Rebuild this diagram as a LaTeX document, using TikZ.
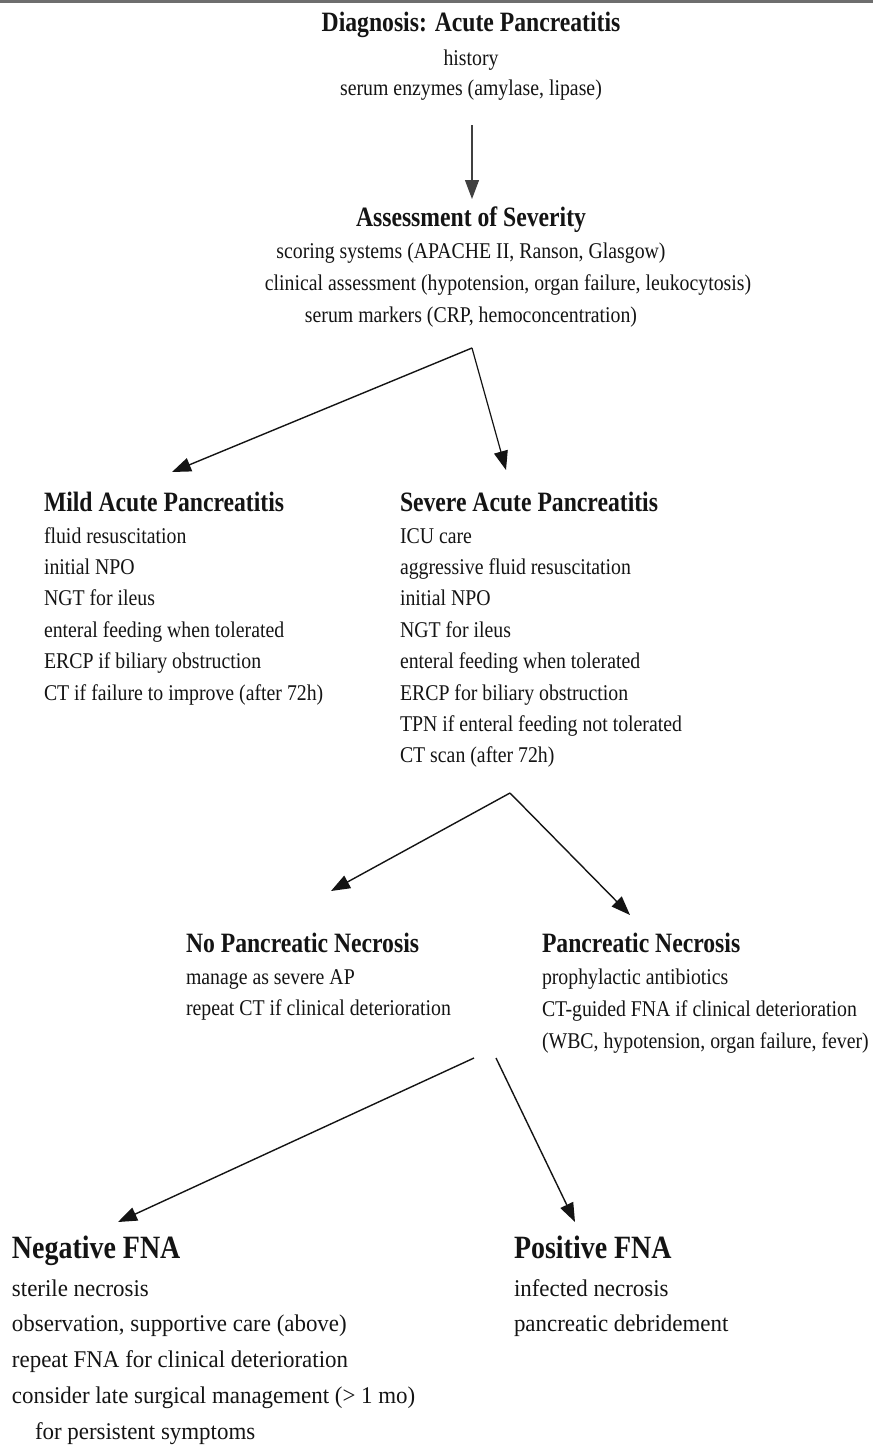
\documentclass[tikz,border=0pt]{standalone}
\usepackage{fontspec}
\setmainfont{Liberation Serif}
\newfontfamily\hdfam[FakeStretch=0.845]{Liberation Serif}
\newfontfamily\bdfam[FakeStretch=0.88]{Liberation Serif}
\newfontfamily\lohdfam[FakeStretch=0.86]{Liberation Serif}
\newfontfamily\lobdfam[FakeStretch=0.955]{Liberation Serif}
\usetikzlibrary{arrows.meta}
\definecolor{rulegray}{RGB}{110,110,110}
\definecolor{ink}{RGB}{20,20,20}
\tikzset{
  hd/.style={inner sep=0pt, outer sep=0pt, text=ink, font=\hdfam\bfseries\fontsize{28}{30}\selectfont},
  bd/.style={inner sep=0pt, outer sep=0pt, text=ink, font=\bdfam\fontsize{22.5}{27}\selectfont},
  lohd/.style={inner sep=0pt, outer sep=0pt, text=ink, font=\lohdfam\bfseries\fontsize{32.5}{36}\selectfont},
  lobd/.style={inner sep=0pt, outer sep=0pt, text=ink, font=\lobdfam\fontsize{24}{28}\selectfont},
  lw/.style={anchor=base west},
  ct/.style={anchor=base},
  arr/.style={line width=1.4pt, draw=ink, -{Triangle[length=19pt,width=14pt]}}
}
\begin{document}
\begin{tikzpicture}[x=1pt,y=-1pt]
\fill[white] (0,0) rectangle (873,1449);
\useasboundingbox (0,0) rectangle (873,1449);
% top rule
\draw[rulegray, line width=2.5pt] (0,1.5) -- (873,1.5);

% Diagnosis block
\node[hd,ct] (diag) at (471,31) {Diagnosis: Acute Pancreatitis};
\node[bd,ct] (diag1) at (471,65) {history};
\node[bd,ct] (diag2) at (471,95) {serum enzymes (amylase, lipase)};

% Severity block
\node[hd,ct] (sev) at (471,226) {Assessment of Severity};
\node[bd,ct] (sev1) at (471,258) {scoring systems (APACHE II, Ranson, Glasgow)};
\node[bd,ct] (sev2) at (508,290) {clinical assessment (hypotension, organ failure, leukocytosis)};
\node[bd,ct] (sev3) at (471,322) {serum markers (CRP, hemoconcentration)};

% Mild
\node[hd,lw] (mild) at (44,511.5) {Mild Acute Pancreatitis};
\node[bd,lw] (mild1) at (44,543) {fluid resuscitation};
\node[bd,lw] (mild2) at (44,574.4) {initial NPO};
\node[bd,lw] (mild3) at (44,605.8) {NGT for ileus};
\node[bd,lw] (mild4) at (44,637.2) {enteral feeding when tolerated};
\node[bd,lw] (mild5) at (44,668.6) {ERCP if biliary obstruction};
\node[bd,lw] (mild6) at (44,700) {CT if failure to improve (after 72h)};

% Severe
\node[hd,lw] (sevr) at (400,511.5) {Severe Acute Pancreatitis};
\node[bd,lw] (sevr1) at (400,543) {ICU care};
\node[bd,lw] (sevr2) at (400,574.4) {aggressive fluid resuscitation};
\node[bd,lw] (sevr3) at (400,605.8) {initial NPO};
\node[bd,lw] (sevr4) at (400,637.2) {NGT for ileus};
\node[bd,lw] (sevr5) at (400,668.6) {enteral feeding when tolerated};
\node[bd,lw] (sevr6) at (400,700) {ERCP for biliary obstruction};
\node[bd,lw] (sevr7) at (400,731.4) {TPN if enteral feeding not tolerated};
\node[bd,lw] (sevr8) at (400,762.8) {CT scan (after 72h)};

% No necrosis
\node[hd,lw] (nonec) at (186,952) {No Pancreatic Necrosis};
\node[bd,lw] (nonec1) at (186,984.5) {manage as severe AP};
\node[bd,lw] (nonec2) at (186,1015.5) {repeat CT if clinical deterioration};

% Necrosis
\node[hd,lw] (nec) at (542,952) {Pancreatic Necrosis};
\node[bd,lw] (nec1) at (542,984.5) {prophylactic antibiotics};
\node[bd,lw] (nec2) at (542,1016.5) {CT-guided FNA if clinical deterioration};
\node[bd,lw] (nec3) at (542,1048) {(WBC, hypotension, organ failure, fever)};

% Negative FNA
\node[lohd,lw] (neg) at (12,1258) {Negative FNA};
\node[lobd,lw] (neg1) at (12,1296) {sterile necrosis};
\node[lobd,lw] (neg2) at (12,1331.5) {observation, supportive care (above)};
\node[lobd,lw] (neg3) at (12,1367.5) {repeat FNA for clinical deterioration};
\node[lobd,lw] (neg4) at (12,1403.5) {consider late surgical management (> 1 mo)};
\node[lobd,lw] (neg5) at (35,1439.5) {for persistent symptoms};

% Positive FNA
\node[lohd,lw] (pos) at (514,1258) {Positive FNA};
\node[lobd,lw] (pos1) at (514,1296) {infected necrosis};
\node[lobd,lw] (pos2) at (514,1331.5) {pancreatic debridement};

% connector end points
\coordinate (a1s) at (472,125);
\coordinate (a1e) at (472,199);
\coordinate (a2s) at (472,348);
\coordinate (a2l) at (172,472);
\coordinate (a2r) at (506,470);
\coordinate (a3s) at (510,793);
\coordinate (a3l) at (331,891);
\coordinate (a3r) at (630,915);
\coordinate (a4ls) at (474,1058);
\coordinate (a4l) at (118,1222);
\coordinate (a4rs) at (496,1058);
\coordinate (a4r) at (575,1222);

\draw[arr, line width=1.2pt, draw=black!75] (a1s) -- (a1e);
\draw[arr] (a2s) -- (a2l);
\draw[arr, line width=1.2pt] (a2s) -- (a2r);
\draw[arr] (a3s) -- (a3l);
\draw[arr] (a3s) -- (a3r);
\draw[arr] (a4ls) -- (a4l);
\draw[arr] (a4rs) -- (a4r);
\end{tikzpicture}
\end{document}
